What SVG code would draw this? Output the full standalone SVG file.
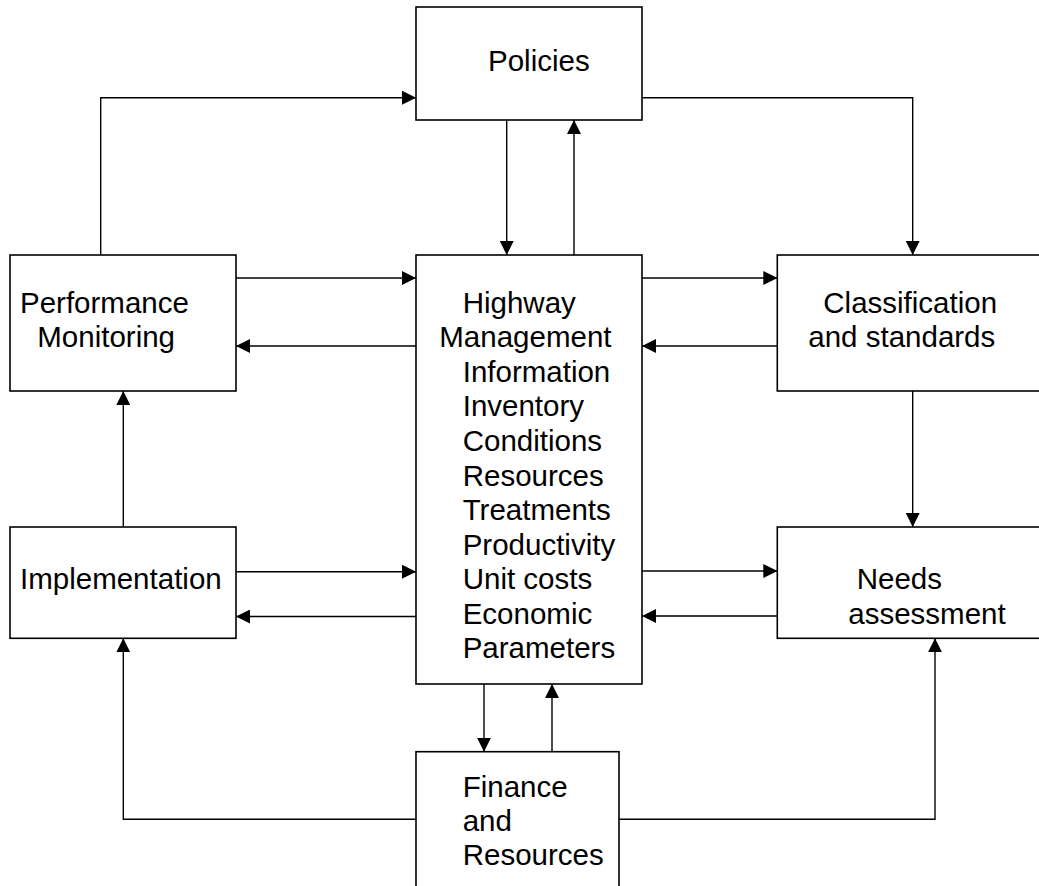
<svg xmlns="http://www.w3.org/2000/svg" width="1039" height="886" viewBox="0 0 1039 886">
<style>
.box{fill:#fff;stroke:#000;stroke-width:1.6}
.lbl{font-family:"Liberation Sans",Arial,sans-serif;font-size:29.5px;fill:#000}
.con{fill:none;stroke:#000;stroke-width:1.4}
</style>
<defs>
<marker id="ah" markerUnits="userSpaceOnUse" markerWidth="14" markerHeight="14" refX="14" refY="7" orient="auto">
<path d="M0,0 L14,7 L0,14 z" fill="#000"/>
</marker>
</defs>
<rect width="1039" height="886" fill="#fff"/>
<g id="policies">
<rect class="box" x="416" y="7" width="226" height="113"/>
<text class="lbl" x="488" y="71">Policies</text>
</g>
<g id="hmi">
<rect class="box" x="416" y="255" width="226" height="429"/>
<text class="lbl" x="462.7" y="312.7">Highway</text>
<text class="lbl" x="439.3" y="347.2">Management</text>
<text class="lbl" x="462.7" y="381.7">Information</text>
<text class="lbl" x="462.7" y="416.1">Inventory</text>
<text class="lbl" x="462.7" y="450.9">Conditions</text>
<text class="lbl" x="462.7" y="485.6">Resources</text>
<text class="lbl" x="462.7" y="520.2">Treatments</text>
<text class="lbl" x="462.7" y="554.8">Productivity</text>
<text class="lbl" x="462.7" y="589.3">Unit costs</text>
<text class="lbl" x="462.7" y="623.9">Economic</text>
<text class="lbl" x="462.7" y="658.3">Parameters</text>
</g>
<g id="perf">
<rect class="box" x="10" y="255" width="226" height="136"/>
<text class="lbl" x="20" y="312.7">Performance</text>
<text class="lbl" x="37.3" y="346.5">Monitoring</text>
</g>
<g id="class">
<rect class="box" x="777.3" y="255" width="270" height="136"/>
<text class="lbl" x="823.3" y="312.7">Classification</text>
<text class="lbl" x="808.3" y="346.7">and standards</text>
</g>
<g id="impl">
<rect class="box" x="10" y="527" width="226" height="111.3"/>
<text class="lbl" x="20" y="589.3">Implementation</text>
</g>
<g id="needs">
<rect class="box" x="777.3" y="527" width="270" height="111.3"/>
<text class="lbl" x="856.7" y="589.3">Needs</text>
<text class="lbl" x="848.3" y="624">assessment</text>
</g>
<g id="finance">
<rect class="box" x="416" y="751.7" width="203" height="150"/>
<text class="lbl" x="462.7" y="797.3">Finance</text>
<text class="lbl" x="462.7" y="831">and</text>
<text class="lbl" x="462.7" y="865">Resources</text>
</g>
<g id="connectors">
<path class="con" marker-end="url(#ah)" d="M100.7,255 V97.7 H416"/>
<path class="con" marker-end="url(#ah)" d="M642,97.7 H912.7 V255"/>
<path class="con" marker-end="url(#ah)" d="M506.7,120 V255"/>
<path class="con" marker-end="url(#ah)" d="M574,255 V120"/>
<path class="con" marker-end="url(#ah)" d="M236,278 H416"/>
<path class="con" marker-end="url(#ah)" d="M416,346 H236"/>
<path class="con" marker-end="url(#ah)" d="M642,278 H777.3"/>
<path class="con" marker-end="url(#ah)" d="M777.3,346 H642"/>
<path class="con" marker-end="url(#ah)" d="M123.3,527 V391"/>
<path class="con" marker-end="url(#ah)" d="M912.7,391 V527"/>
<path class="con" marker-end="url(#ah)" d="M236,571.7 H416"/>
<path class="con" marker-end="url(#ah)" d="M416,616.5 H236"/>
<path class="con" marker-end="url(#ah)" d="M642,571 H777.3"/>
<path class="con" marker-end="url(#ah)" d="M777.3,616 H642"/>
<path class="con" marker-end="url(#ah)" d="M484,684 V751.7"/>
<path class="con" marker-end="url(#ah)" d="M552,751.7 V684"/>
<path class="con" marker-end="url(#ah)" d="M416,819.3 H123.3 V638.3"/>
<path class="con" marker-end="url(#ah)" d="M619,819.3 H935 V638.3"/>
</g>
</svg>
